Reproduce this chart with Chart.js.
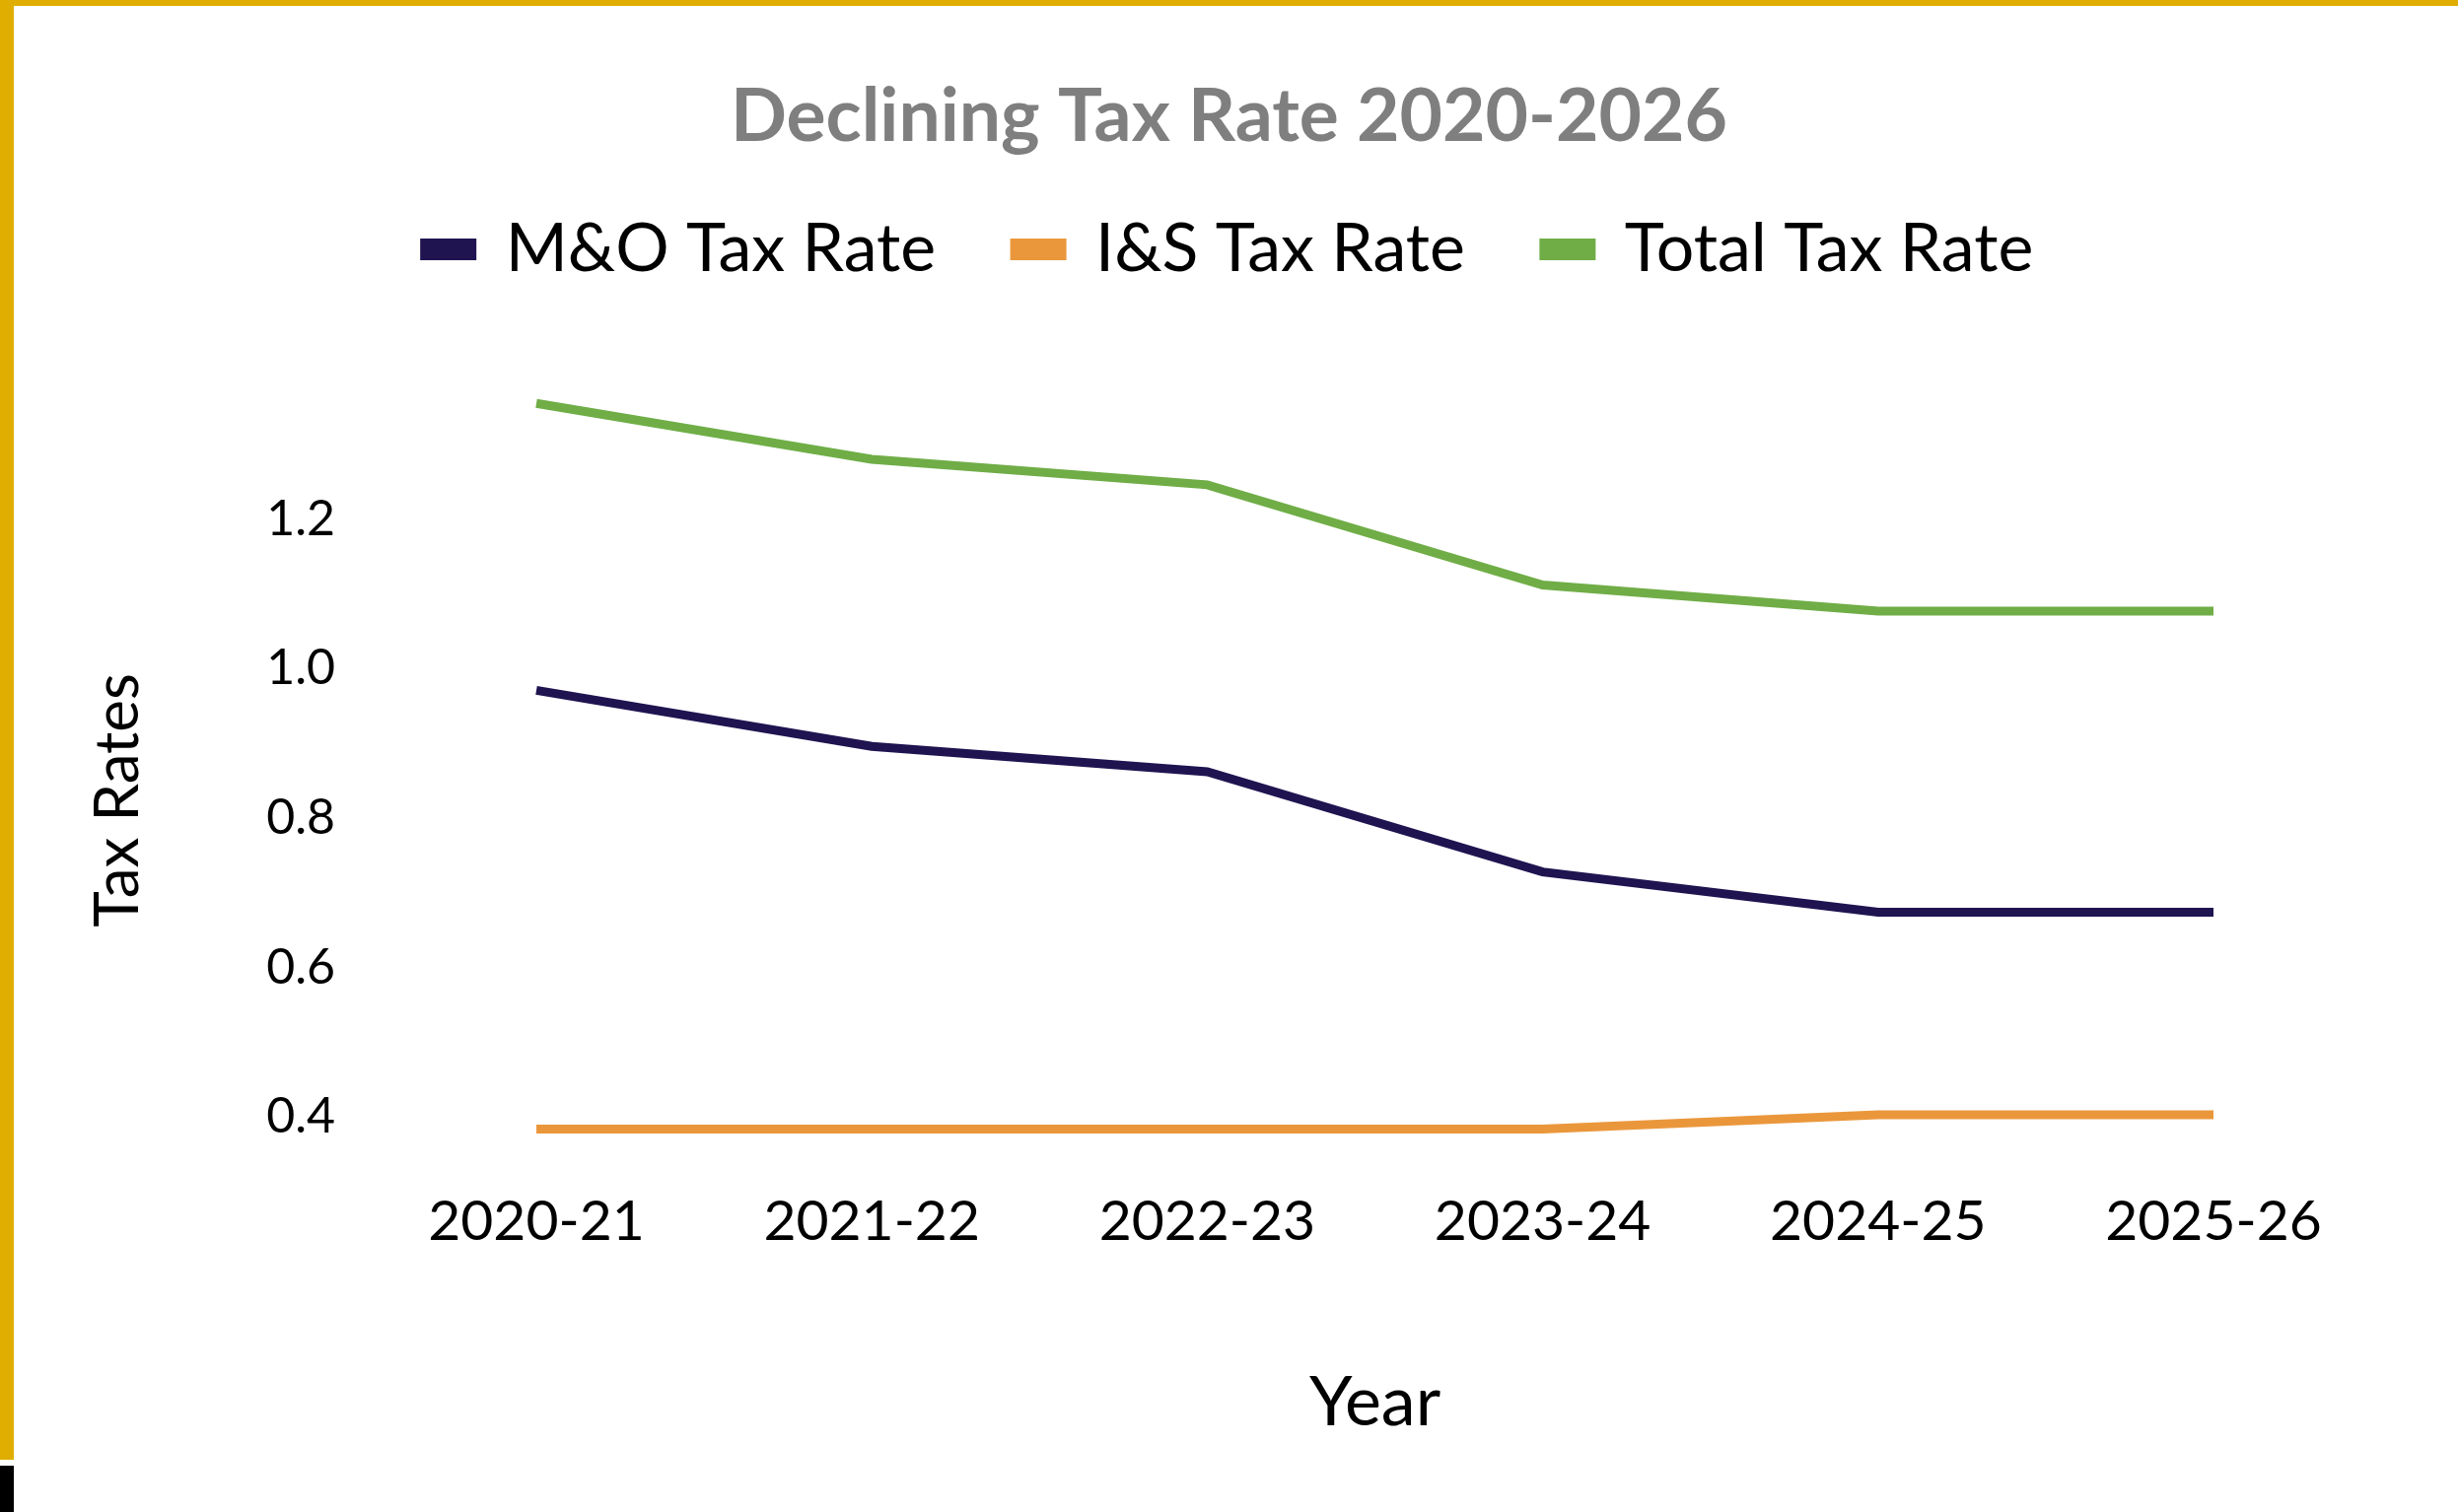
<!DOCTYPE html>
<html>
<head>
<meta charset="utf-8">
<script src="https://cdn.jsdelivr.net/npm/chart.js@4/dist/chart.umd.min.js"></script>
<style>
  html, body { margin: 0; padding: 0; background: #ffffff; overflow: hidden; }
  #wrap { position: absolute; left: 0; top: 0; width: 2493px; height: 1534px; }
  #c { position: absolute; left: 0; top: 0; }
  .bar-top { position: absolute; left: 0; top: 0; width: 2493px; height: 6px; background: #DFAE00; }
  .bar-left { position: absolute; left: 0; top: 0; width: 14px; height: 1481px; background: #DFAE00; }
  .blk { position: absolute; left: 0; top: 1487px; width: 14px; height: 47px; background: #000; }
</style>
</head>
<body>
<div id="wrap">
  <canvas id="c" width="2493" height="1534"></canvas>
  <div class="bar-top"></div>
  <div class="bar-left"></div>
  <div class="blk"></div>
</div>
<script>
const categories = ['2020-21', '2021-22', '2022-23', '2023-24', '2024-25', '2025-26'];
const moRate = [0.971, 0.896, 0.862, 0.728, 0.674, 0.674];
const isRate = [0.384, 0.384, 0.384, 0.384, 0.403, 0.403];
const totalRate = [1.355, 1.280, 1.246, 1.112, 1.077, 1.077];
const yTickValues = [0.4, 0.6, 0.8, 1.0, 1.2];
const seriesNames = ['M&O Tax Rate', 'I&S Tax Rate', 'Total Tax Rate'];

const FONT = 'Lato, "Open Sans", sans-serif';
const colors = ['#1F1450', '#EA973C', '#70AD47'];

const hiddenAxis = {
  display: true,
  grid: { display: false, drawTicks: false },
  border: { display: false },
  ticks: { display: false }
};

new Chart(document.getElementById('c'), {
  type: 'line',
  data: {
    labels: categories,
    datasets: [moRate, isRate, totalRate].map((d, i) => ({
      label: seriesNames[i],
      data: d,
      xAxisID: 'x',
      yAxisID: 'y',
      borderColor: colors[i],
      backgroundColor: colors[i],
      borderWidth: 9,
      pointRadius: 0,
      pointHoverRadius: 0,
      tension: 0,
      fill: false,
      clip: false,
      borderCapStyle: 'butt',
      borderJoinStyle: 'miter'
    }))
  },
  options: {
    responsive: false,
    animation: false,
    events: [],
    layout: { padding: { top: 81, left: 14, right: 14, bottom: 0 } },
    plugins: {
      tooltip: { enabled: false },
      title: {
        display: true,
        text: 'Declining Tax Rate 2020-2026',
        color: '#7F7F7F',
        font: { family: FONT, size: 75, weight: 'bold', lineHeight: 1.0 },
        padding: { top: 0, bottom: -17 }
      },
      legend: {
        display: true,
        position: 'top',
        labels: {
          color: '#000000',
          font: { family: FONT, size: 68 },
          boxWidth: 48,
          boxHeight: 13,
          padding: 80
        }
      }
    },
    scales: {
      x: {
        type: 'category',
        position: 'bottom',
        offset: false,
        grid: { display: false, drawTicks: false },
        border: { display: false },
        ticks: {
          color: '#000000',
          font: { family: FONT, size: 57 },
          padding: 30,
          maxRotation: 0,
          autoSkip: false
        },
        title: {
          display: true,
          text: 'Year',
          color: '#000000',
          font: { family: FONT, size: 70 },
          padding: { top: 0, bottom: 69 }
        },
        afterFit: (s) => { s.height = 359; }
      },
      xTop: Object.assign({ type: 'category', position: 'top', afterFit: (s) => { s.height = 152; } }, hiddenAxis),
      y: {
        type: 'linear',
        position: 'left',
        min: 0.345,
        max: 1.3025,
        grid: { display: false, drawTicks: false },
        border: { display: false },
        afterBuildTicks: (s) => { s.ticks = yTickValues.map(v => ({ value: v })); },
        ticks: {
          color: '#000000',
          font: { family: FONT, size: 50 },
          padding: 204,
          callback: (v) => Number(v).toFixed(1)
        },
        title: {
          display: true,
          text: 'Tax Rates',
          color: '#000000',
          font: { family: FONT, size: 62 },
          padding: { top: 69, bottom: 0 }
        },
        afterFit: (s) => { s.width = 530; }
      },
      yR: Object.assign({ type: 'linear', position: 'right', afterFit: (s) => { s.width = 234; } }, hiddenAxis)
    }
  }
});
</script>
</body>
</html>
